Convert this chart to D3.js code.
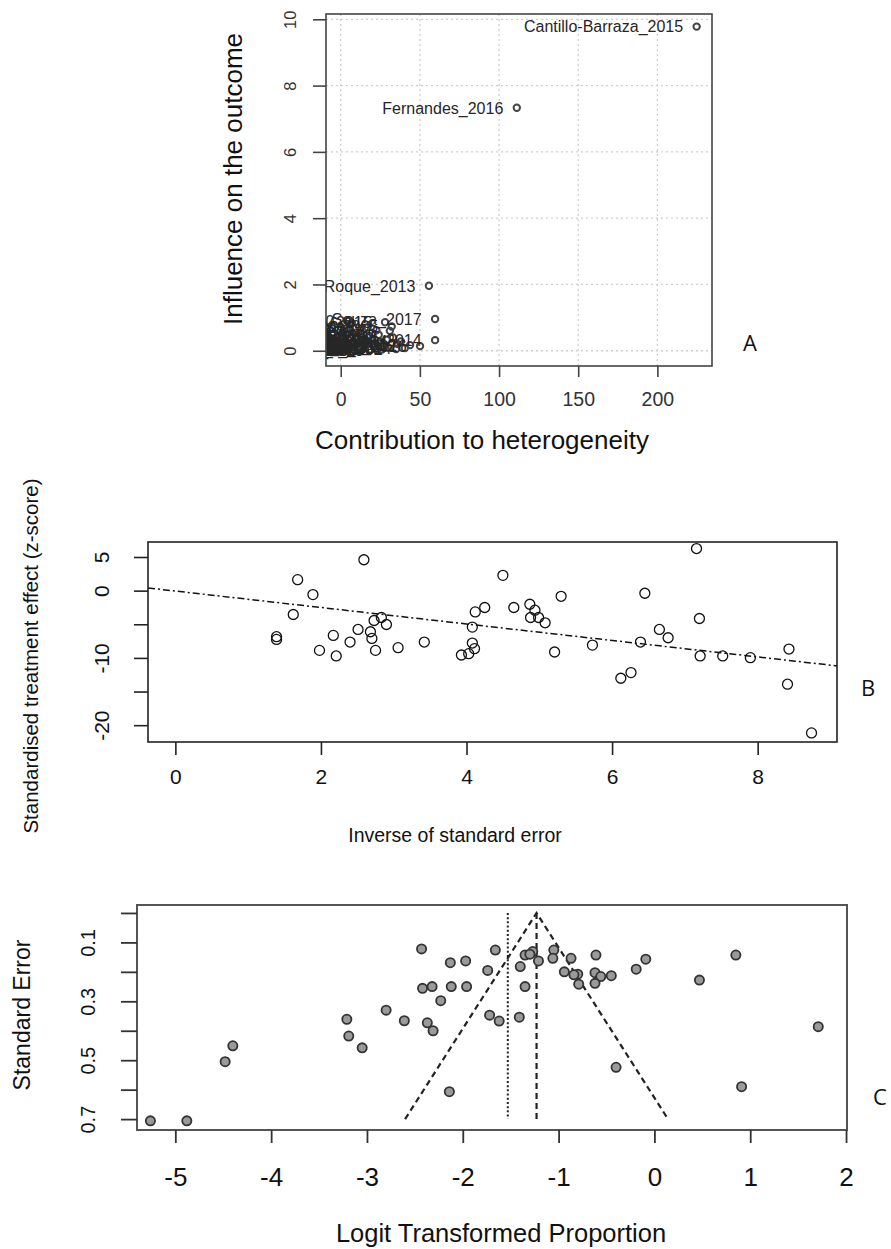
<!DOCTYPE html>
<html>
<head>
<meta charset="utf-8">
<script src="https://cdn.jsdelivr.net/npm/d3@7"></script>
<style>
  body { margin: 0; background: #fff; }
  svg { display: block; }
</style>
</head>
<body>
<svg id="fig" width="891" height="1249"></svg>
<script>
// ---------- Panel A: Baujat plot ----------
const baujatStudies = [
  "Cantillo-Barraza_2015", "Fernandes_2016", "Roque_2013",
  "Souza_2017", "Bezerra_2014", "Lucheis_2005", "Ramirez_2016", "Castillo_2012",
  "Barbosa_2015", "Enriquez_2013", "Crisante_2006", "Montenegro_2002", "Gurtler_2007",
  "Cardinal_2006", "Jaimes_2017", "Lima_2012", "Santana_2012", "Rosypal_2010",
  "Tenney_2014", "Meyers_2017", "Curtis_2017", "Jimenez_2015", "Estrada_2006",
  "Barr_1991", "Xavier_2012", "Pineda_2011", "Monteon_2012", "Rocha_2013",
  "Silva_2010", "Costa_2015", "Mendes_2013", "Oliveira_2009", "Alves_2011",
  "Pereira_2016", "Moreno_2014", "Torres_2010", "Herrera_2008", "Vargas_2018",
  "Duarte_2012", "Leite_2016", "Freitas_2019", "Araujo_2013", "Nunes_2011",
  "Ribeiro_2017", "Gomes_2015", "Paiva_2014", "Carvalho_2018", "Teixeira_2010",
  "Martins_2016", "Sousa_2009"
];
const baujatHeterogeneity = [
  224.8, 111.2, 55.7,
  59.6, 59.6, 32.2, 50.1, 43.8,
  28.0, 22.5, 18.0, 35.0, 12.0,
  8.0, 25.0, 15.0, 5.0, 2.0,
  38.0, 20.0, 10.0, 30.0, 6.0,
  14.0, 3.0, 1.0, 26.0, 17.0,
  9.0, 33.0, 4.0, 11.0, 21.0,
  7.0, 13.0, 0.5, 19.0, 24.0,
  36.0, 16.0, 2.5, 29.0, 1.5,
  27.0, 23.0, 40.5, 0.2, 4.5,
  31.0, 0.8
];
const baujatInfluence = [
  9.78, 7.33, 1.96,
  0.96, 0.32, 0.73, 0.14, 0.17,
  0.86, 0.62, 0.45, 0.05, 0.30,
  0.12, 0.22, 0.08, 0.05, 0.02,
  0.28, 0.35, 0.55, 0.10, 0.40,
  0.18, 0.25, 0.01, 0.04, 0.70,
  0.02, 0.40, 0.15, 0.06, 0.12,
  0.84, 0.50, 0.10, 0.03, 0.48,
  0.20, 0.27, 0.60, 0.33, 0.35,
  0.15, 0.01, 0.08, 0.72, 0.90,
  0.60, 0.45
];
const baujatXTicks = [0, 50, 100, 150, 200];
const baujatYTicks = [0, 2, 4, 6, 8, 10];

// ---------- Panel B: radial (Galbraith) plot ----------
const radialPrecision = [
  1.39, 1.39, 1.68, 1.89, 1.62, 2.59, 1.98, 2.17, 2.21, 2.40,
  2.51, 2.68, 2.70, 2.73, 2.83, 2.90, 2.75, 3.06, 3.42, 3.93,
  4.03, 4.11, 4.08, 4.08, 4.12, 4.25, 4.50, 4.65, 4.87, 4.94,
  4.88, 4.99, 5.08, 5.30, 5.21, 5.73, 6.12, 6.26, 6.39, 6.45,
  6.65, 6.77, 7.16, 7.20, 7.21, 7.52, 7.90, 8.43, 8.41, 8.74
];
const radialZ = [
  -6.85, -7.25, 1.63, -0.59, -3.55, 4.59, -8.88, -6.66, -9.71, -7.64,
  -5.77, -6.11, -7.10, -4.44, -3.99, -5.03, -8.88, -8.48, -7.64, -9.57,
  -9.37, -8.63, -7.79, -5.42, -3.16, -2.51, 2.27, -2.51, -2.02, -2.91,
  -3.99, -3.99, -4.78, -0.84, -9.12, -8.09, -13.02, -12.18, -7.64, -0.39,
  -5.77, -7.00, 6.26, -4.14, -9.71, -9.71, -9.96, -8.68, -13.91, -21.15
];
const radialFitIntercept = -0.06;
const radialFitSlope = -1.224;
const radialXTicks = [0, 2, 4, 6, 8];
const radialYTicks = [5, 0, -5, -10, -15, -20];
const radialYLabels = ["5", "0", "", "-10", "", "-20"];

// ---------- Panel C: funnel plot ----------
const funnelLogit = [
  -2.43, -2.13, -1.97, -1.66, -1.74, -1.40, -1.35, -1.27, -1.21, -1.05,
  -1.06, -0.87, -0.94, -0.80, -0.79, -0.61, -0.62, -0.56, -0.62, -0.45,
  -0.19, -0.09, 0.47, 0.85, 1.71, 0.91, -0.40, -2.14, -2.42, -2.32,
  -2.12, -1.96, -2.23, -1.35, -2.80, -2.61, -2.37, -2.31, -1.72, -1.62,
  -1.41, -3.21, -3.19, -3.05, -4.40, -4.48, -5.26, -4.88, -1.30, -0.84
];
const funnelSE = [
  0.122, 0.169, 0.163, 0.126, 0.195, 0.182, 0.143, 0.131, 0.163, 0.126,
  0.154, 0.154, 0.200, 0.208, 0.242, 0.143, 0.203, 0.216, 0.239, 0.213,
  0.191, 0.157, 0.228, 0.143, 0.386, 0.590, 0.524, 0.607, 0.256, 0.250,
  0.250, 0.250, 0.298, 0.250, 0.330, 0.366, 0.373, 0.400, 0.347, 0.367,
  0.354, 0.361, 0.418, 0.458, 0.451, 0.505, 0.706, 0.706, 0.140, 0.210
];
const funnelFixed = -1.23;   // dashed line, centre of the pseudo-CI funnel
const funnelRandom = -1.53;  // dotted line
const funnelSEMax = 0.70;
const funnelXTicks = [-5, -4, -3, -2, -1, 0, 1, 2];
const funnelYTicks = [0, 0.1, 0.2, 0.3, 0.4, 0.5, 0.6, 0.7];
const funnelYLabels = ["", "0.1", "", "0.3", "", "0.5", "", "0.7"];

// ---------- drawing ----------
const FONT = '"Liberation Sans", Arial, Helvetica, sans-serif';
const svg = d3.select("#fig");

function frame(g, box, color, width) {
  g.append("rect")
    .attr("x", box.x0).attr("y", box.y0)
    .attr("width", box.x1 - box.x0).attr("height", box.y1 - box.y0)
    .attr("fill", "none").attr("stroke", color).attr("stroke-width", width);
}

function bottomAxis(g, scale, ticks, opt) {
  const ax = d3.axisBottom(scale).tickValues(ticks).tickSize(opt.tickLen)
    .tickSizeOuter(0).tickFormat((d, i) => opt.labels ? opt.labels[i] : String(d));
  const a = g.append("g").attr("transform", `translate(0,${opt.y})`).call(ax);
  a.attr("font-family", FONT).attr("font-size", opt.fs);
  a.select(".domain").remove();
  a.selectAll(".tick line").attr("stroke", opt.color).attr("stroke-width", opt.lw);
  a.selectAll(".tick text").attr("fill", opt.textColor)
    .attr("y", opt.labelY - opt.y).attr("dy", "0.36em");
}

function leftAxis(g, scale, ticks, opt) {
  const ax = d3.axisLeft(scale).tickValues(ticks).tickSize(opt.tickLen)
    .tickSizeOuter(0).tickFormat((d, i) => opt.labels ? opt.labels[i] : String(d));
  const a = g.append("g").attr("transform", `translate(${opt.x},0)`).call(ax);
  a.attr("font-family", FONT).attr("font-size", opt.fs);
  a.select(".domain").remove();
  a.selectAll(".tick line").attr("stroke", opt.color).attr("stroke-width", opt.lw);
  a.selectAll(".tick text").attr("fill", opt.textColor)
    .attr("x", 0).attr("y", 0).attr("dy", "0.36em")
    .attr("text-anchor", "middle")
    .attr("transform", `translate(${opt.labelX - opt.x},0) rotate(-90)`);
}

function title(g, text, x, y, fs, rotate, color) {
  g.append("text")
    .attr("transform", `translate(${x},${y})` + (rotate ? " rotate(-90)" : ""))
    .attr("dy", "0.36em")
    .attr("text-anchor", "middle")
    .attr("font-family", FONT).attr("font-size", fs)
    .attr("fill", color || "#111")
    .text(text);
}

function panelTag(text, x, y) {
  svg.append("text").attr("x", x).attr("y", y).attr("dy", "0.36em")
    .attr("text-anchor", "middle")
    .attr("font-family", '"Open Sans", "Noto Sans", sans-serif')
    .attr("font-size", 22).attr("fill", "#111").text(text);
}

// ----- A -----
{
  const box = { x0: 326, x1: 712, y0: 14, y1: 366 };
  const x = d3.scaleLinear().domain([-9.3, 234.5]).range([box.x0, box.x1]);
  const y = d3.scaleLinear().domain([-0.46, 10.16]).range([box.y1, box.y0]);
  const g = svg.append("g");

  svg.append("clipPath").attr("id", "clipA").append("rect")
    .attr("x", box.x0).attr("y", box.y0)
    .attr("width", box.x1 - box.x0).attr("height", box.y1 - box.y0);

  const grid = g.append("g").attr("stroke", "#cfcfcf").attr("stroke-width", 1.3)
    .attr("stroke-dasharray", "2,3");
  grid.selectAll(".gx").data(baujatXTicks).join("line")
    .attr("x1", d => x(d)).attr("x2", d => x(d)).attr("y1", box.y0).attr("y2", box.y1);
  grid.selectAll(".gy").data(baujatYTicks).join("line")
    .attr("y1", d => y(d)).attr("y2", d => y(d)).attr("x1", box.x0).attr("x2", box.x1);

  const studies = baujatStudies.map((s, i) => ({ s, h: baujatHeterogeneity[i], v: baujatInfluence[i] }));
  const inner = g.append("g").attr("clip-path", "url(#clipA)");
  inner.selectAll("circle").data(studies).join("circle")
    .attr("cx", d => x(d.h)).attr("cy", d => y(d.v)).attr("r", 3.2)
    .attr("fill", "none").attr("stroke", "#444").attr("stroke-width", 2);
  // study labels sit to the left of each point and are clipped to the plot region
  inner.selectAll("text").data(studies).join("text")
    .attr("x", d => x(d.h) - 13.5).attr("y", d => y(d.v)).attr("dy", "0.36em")
    .attr("text-anchor", "end").attr("font-family", FONT).attr("font-size", 16)
    .attr("fill", "#262626").text(d => d.s);

  frame(g, box, "#444", 1.6);
  const axisStyle = { color: "#444", lw: 1.6, textColor: "#333" };
  bottomAxis(g, x, baujatXTicks, { ...axisStyle, y: box.y1, tickLen: 11, labelY: 399, fs: 19.5 });
  leftAxis(g, y, baujatYTicks, { ...axisStyle, x: box.x0, tickLen: 13, labelX: 290, fs: 16.5 });
  title(g, "Contribution to heterogeneity", 482, 440, 26, false, "#111");
  title(g, "Influence on the outcome", 233, 179, 26, true, "#111");
  panelTag("A", 750, 343);
}

// ----- B -----
{
  const box = { x0: 148, x1: 837, y0: 542, y1: 742 };
  const x = d3.scaleLinear().domain([-0.376, 9.09]).range([box.x0, box.x1]);
  const y = d3.scaleLinear().domain([-22.5, 7.23]).range([box.y1, box.y0]);
  const g = svg.append("g");

  const line = d3.line().x(d => x(d)).y(d => y(radialFitIntercept + radialFitSlope * d));
  g.append("path").datum(x.domain())
    .attr("d", line).attr("fill", "none").attr("stroke", "#111")
    .attr("stroke-width", 1.5).attr("stroke-dasharray", "7,3,2,3");

  g.selectAll("circle.pt").data(radialPrecision.map((p, i) => [p, radialZ[i]])).join("circle")
    .attr("class", "pt")
    .attr("cx", d => x(d[0])).attr("cy", d => y(d[1])).attr("r", 5)
    .attr("fill", "none").attr("stroke", "#111").attr("stroke-width", 1.3);

  frame(g, box, "#222", 1.6);
  const axisStyle = { color: "#222", lw: 1.6, textColor: "#111" };
  bottomAxis(g, x, radialXTicks, { ...axisStyle, y: box.y1, tickLen: 13, labelY: 776, fs: 21 });
  leftAxis(g, y, radialYTicks, { ...axisStyle, x: box.x0, tickLen: 14, labelX: 101, fs: 21, labels: radialYLabels });
  title(g, "Inverse of standard error", 455, 835, 19.5, false);
  title(g, "Standardised treatment effect (z-score)", 31, 656, 20.5, true);
  panelTag("B", 868, 688);
}

// ----- C -----
{
  const box = { x0: 137, x1: 847, y0: 905, y1: 1130 };
  const x = d3.scaleLinear().domain([-5.40, 2.01]).range([box.x0, box.x1]);
  const y = d3.scaleLinear().domain([-0.027, 0.737]).range([box.y0, box.y1]);
  const g = svg.append("g");

  const half = 1.96 * funnelSEMax;
  const funnelPts = [[funnelFixed - half, funnelSEMax], [funnelFixed, 0], [funnelFixed + half, funnelSEMax]];
  const ln = d3.line().x(d => x(d[0])).y(d => y(d[1]));
  g.append("path").datum(funnelPts).attr("d", ln)
    .attr("fill", "none").attr("stroke", "#222").attr("stroke-width", 2.2)
    .attr("stroke-dasharray", "6,4");
  g.append("path").datum([[funnelFixed, 0], [funnelFixed, funnelSEMax]]).attr("d", ln)
    .attr("fill", "none").attr("stroke", "#222").attr("stroke-width", 2.2)
    .attr("stroke-dasharray", "6,4");
  g.append("path").datum([[funnelRandom, 0], [funnelRandom, funnelSEMax]]).attr("d", ln)
    .attr("fill", "none").attr("stroke", "#222").attr("stroke-width", 2)
    .attr("stroke-dasharray", "2,2.2");

  g.selectAll("circle.pt").data(funnelLogit.map((v, i) => [v, funnelSE[i]])).join("circle")
    .attr("class", "pt")
    .attr("cx", d => x(d[0])).attr("cy", d => y(d[1])).attr("r", 4.6)
    .attr("fill", "#9a9a9a").attr("stroke", "#333").attr("stroke-width", 1.8);

  frame(g, box, "#555", 2);
  const axisStyle = { color: "#333", lw: 1.8, textColor: "#111" };
  bottomAxis(g, x, funnelXTicks, { ...axisStyle, y: box.y1, tickLen: 13, labelY: 1177, fs: 26 });
  leftAxis(g, y, funnelYTicks, { ...axisStyle, x: box.x0, tickLen: 16, labelX: 88, fs: 20, labels: funnelYLabels });
  title(g, "Logit Transformed Proportion", 501, 1233, 25.5, false);
  title(g, "Standard Error", 22, 1015, 23, true);
  panelTag("C", 880, 1097);
}
</script>
</body>
</html>
